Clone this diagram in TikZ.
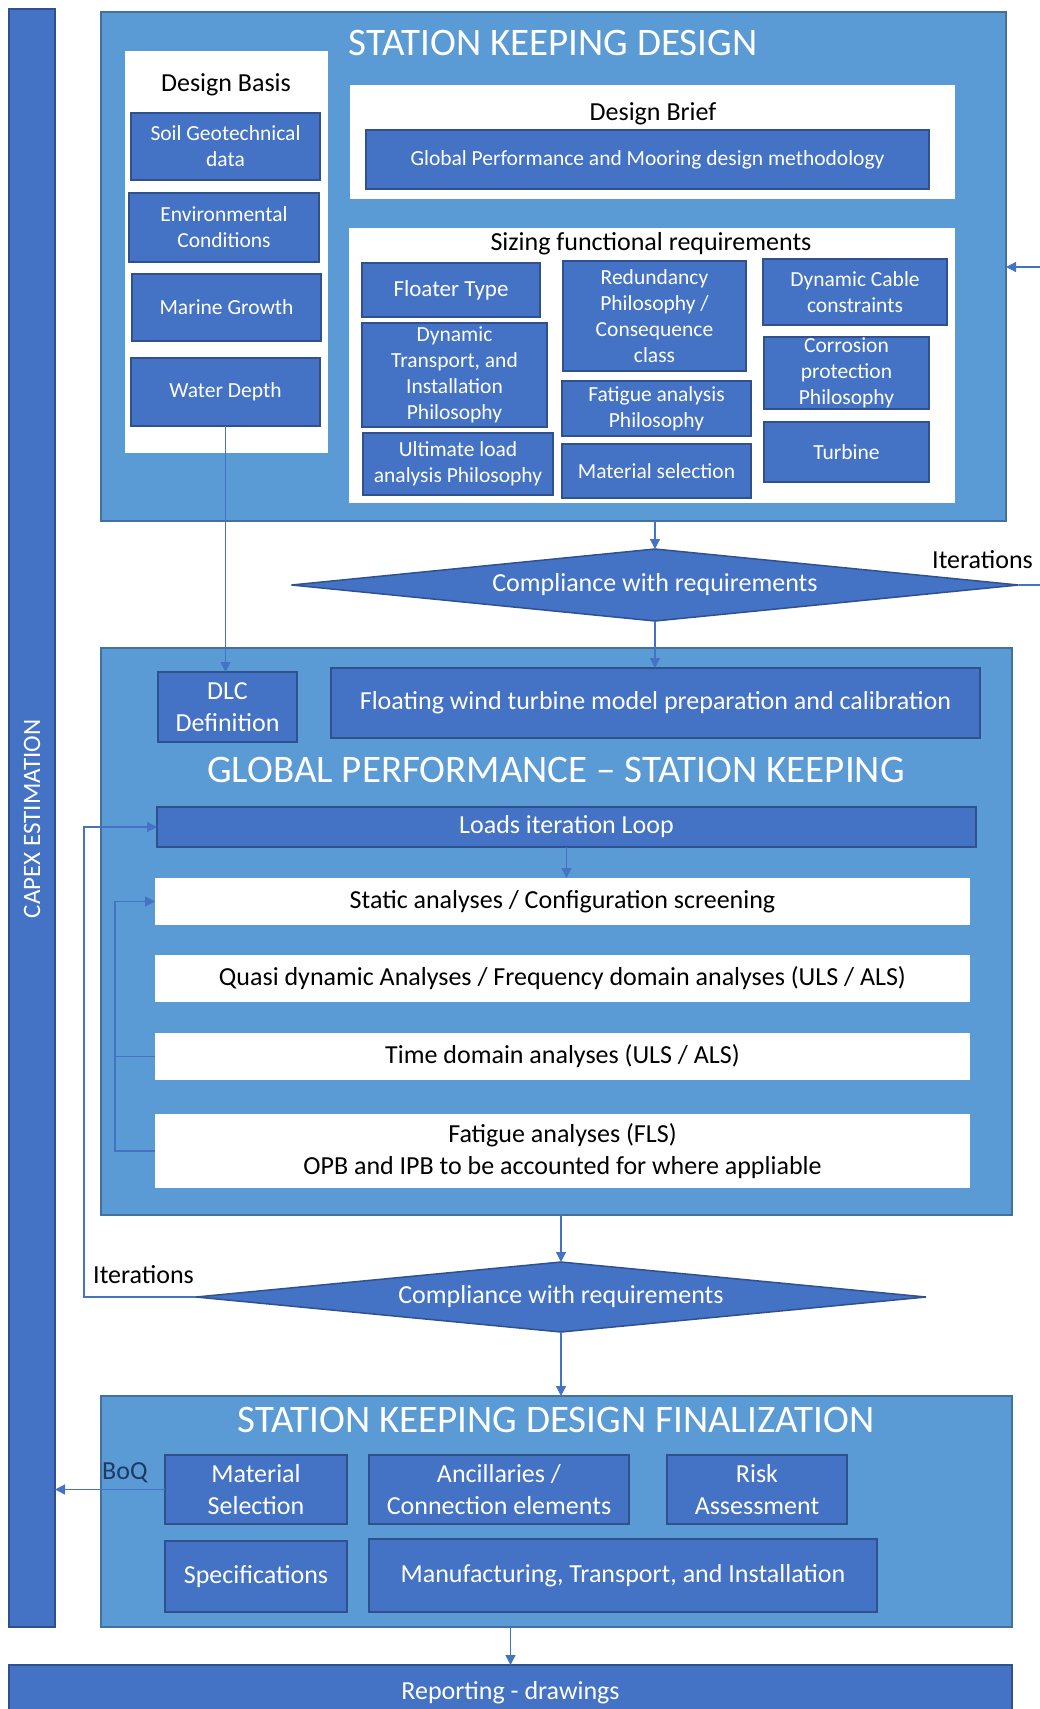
\documentclass[tikz,border=0pt]{standalone}
\usepackage{fontspec}
\setmainfont{Carlito}
\usetikzlibrary{arrows.meta,shapes.geometric}
\definecolor{lblue}{HTML}{5B9BD5}
\definecolor{lbord}{HTML}{41719C}
\definecolor{dblue}{HTML}{4472C4}
\definecolor{dbord}{HTML}{2F528F}
\definecolor{navy}{HTML}{1F3864}
\newcommand\fsS{\fontsize{21.5}{26}\selectfont}
\newcommand\fsM{\fontsize{26}{31.5}\selectfont}
\newcommand\fsL{\fontsize{39}{45}\selectfont}
\newcommand\bx[7]{\node[#6, minimum width={#4-#2}, minimum height={#5-#3}] (#1) at ({(#2+#4)/2},{(#3+#5)/2}) {#7};}
\tikzset{
  outer/.style={draw=lbord, fill=lblue, line width=1.5pt, inner sep=0pt, outer sep=0pt},
  wpanel/.style={fill=white, inner sep=0pt, outer sep=0pt},
  db/.style={draw=dbord, fill=dblue, line width=1.5pt, text=white, align=center, inner sep=0pt, outer sep=0pt, font=\fsS},
  dbm/.style={db, font=\fsM},
  wb/.style={fill=white, align=center, inner sep=0pt, outer sep=0pt, font=\fsM},
  dia/.style={diamond, aspect=10, draw=dbord, fill=dblue, line width=1.5pt, text=white, font=\fsM, inner sep=0pt, outer sep=0pt},
  arr/.style={draw=dblue, line width=1.2pt, -{Triangle[length=10pt,width=10pt]}},
  ln/.style={draw=dblue, line width=1.2pt},
  ttl/.style={text=white, font=\fsL, inner sep=0pt, anchor=base},
  lbl/.style={text=black, font=\fsM, inner sep=0pt, anchor=base},
}
\begin{document}
\begin{tikzpicture}[x=1pt,y=-1pt]
\useasboundingbox (0,0) rectangle (1040,1709);
% CAPEX bar
\bx{cap}{9}{9}{55}{1627}{db}{}
\node[rotate=90, text=white, font=\fontsize{25}{30}\selectfont, inner sep=0pt] (capt) at (32,819) {CAPEX ESTIMATION};
% Station keeping design
\bx{sk}{101}{12}{1006}{521}{outer}{}
\node[ttl] (skt) at (553,55) {STATION KEEPING DESIGN};
\bx{dbp}{125}{51}{328}{453}{wpanel}{}
\node[lbl] (dbt) at (226,91) {Design Basis};
\bx{soil}{131}{113}{320}{180}{db}{Soil Geotechnical\\data}
\bx{env}{129}{193}{319}{262}{db}{Environmental\\Conditions}
\bx{mar}{132}{274}{321}{341}{db}{Marine Growth}
\bx{wd}{131}{358}{320}{426}{db}{Water Depth}
\bx{dbr}{350}{85}{955}{199}{wpanel}{}
\node[lbl] (dbrt) at (653,120) {Design Brief};
\bx{gpm}{366}{130}{929}{189}{db}{Global Performance and Mooring design methodology}
\bx{sfr}{349}{228}{955}{503}{wpanel}{}
\node[lbl] (sfrt) at (651,250) {Sizing functional requirements};
\bx{flt}{362}{263}{540}{317}{db, font=\fontsize{23}{28}\selectfont}{Floater Type}
\bx{dti}{362}{323}{547}{427}{db}{Dynamic\\Transport, and\\Installation\\Philosophy}
\bx{ult}{363}{433}{553}{495}{db}{Ultimate load\\analysis Philosophy}
\bx{red}{563}{261}{746}{371}{db}{Redundancy\\Philosophy /\\Consequence\\class}
\bx{fap}{562}{381}{751}{436}{db}{Fatigue analysis\\Philosophy}
\bx{mat}{562}{444}{751}{498}{db}{Material selection}
\bx{dcc}{763}{259}{947}{325}{db}{Dynamic Cable\\constraints}
\bx{cor}{764}{337}{929}{409}{db}{Corrosion\\protection\\Philosophy}
\bx{tur}{764}{422}{929}{482}{db}{Turbine}
% diamond 1
\node[dia, minimum width=727pt, minimum height=72pt] (d1) at (655,585) {Compliance with requirements};
\coordinate (re) at (1045,585);
\node[lbl, anchor=base west] (it1) at (932,568) {Iterations};
\coordinate (ri) at (1045,267);
% Global performance
\bx{gp}{101}{648}{1012}{1215}{outer}{}
\bx{dlc}{158}{672}{297}{742}{dbm}{DLC\\Definition}
\bx{fwt}{331}{668}{980}{738}{dbm}{Floating wind turbine model preparation and calibration}
\node[ttl] (gpt) at (556,782) {GLOBAL PERFORMANCE -- STATION KEEPING};
\bx{ld}{157}{807}{976}{847}{dbm}{Loads iteration Loop}
\bx{sta}{155}{878}{970}{925}{wb}{Static analyses / Configuration screening}
\bx{qd}{155}{955}{970}{1002}{wb}{Quasi dynamic Analyses / Frequency domain analyses (ULS / ALS)}
\bx{td}{155}{1033}{970}{1080}{wb}{Time domain analyses (ULS / ALS)}
\bx{fa}{155}{1114}{970}{1188}{wb}{Fatigue analyses (FLS)\\OPB and IPB to be accounted for where appliable}
% diamond 2
\node[dia, minimum width=730pt, minimum height=70pt] (d2) at (561,1297) {Compliance with requirements};
\node[lbl, anchor=base west] (it2) at (93,1283) {Iterations};
% Finalization
\bx{fin}{101}{1396}{1012}{1627}{outer}{}
\node[ttl] (fint) at (556,1432) {STATION KEEPING DESIGN FINALIZATION};
\bx{ms}{165}{1455}{347}{1524}{dbm}{Material\\Selection}
\bx{anc}{369}{1455}{629}{1524}{dbm}{Ancillaries /\\Connection elements}
\bx{risk}{667}{1455}{847}{1524}{dbm}{Risk\\Assessment}
\bx{spec}{165}{1541}{347}{1612}{dbm}{Specifications}
\bx{mti}{369}{1539}{877}{1612}{dbm}{Manufacturing, Transport, and Installation}
\node[lbl, text=navy, anchor=base west] (boq) at (102,1479) {BoQ};
\bx{rep}{9}{1665}{1012}{1720}{dbm}{Reporting - drawings}
% connectors
\coordinate (lpi) at (115,0);
\coordinate (lpo) at (84,0);
\draw[arr] (sk.south -| d1.north) -- (d1.north);
\draw[arr] (d1.south) -- (d1.south |- fwt.north);
\draw[ln] (d1.east) -- (re);
\draw[arr] (ri) -- (ri -| sk.east);
\draw[arr] (wd.south) -- (wd.south |- dlc.north);
\draw[arr] (ld.south) -- (ld.south |- sta.north);
\draw[arr] (fa.west) -| (lpi |- sta.west) -- (sta.west);
\draw[ln] (td.west) -- (td.west -| lpi);
\draw[arr] (gp.south -| d2.north) -- (d2.north);
\draw[arr] (d2.west) -| (lpo |- ld.west) -- (ld.west);
\draw[arr] (d2.south) -- (d2.south |- fin.north);
\draw[arr] (fin.south -| rep.north) -- (rep.north);
\draw[arr] (ms.west) -- (ms.west -| cap.east);
\end{tikzpicture}
\end{document}
